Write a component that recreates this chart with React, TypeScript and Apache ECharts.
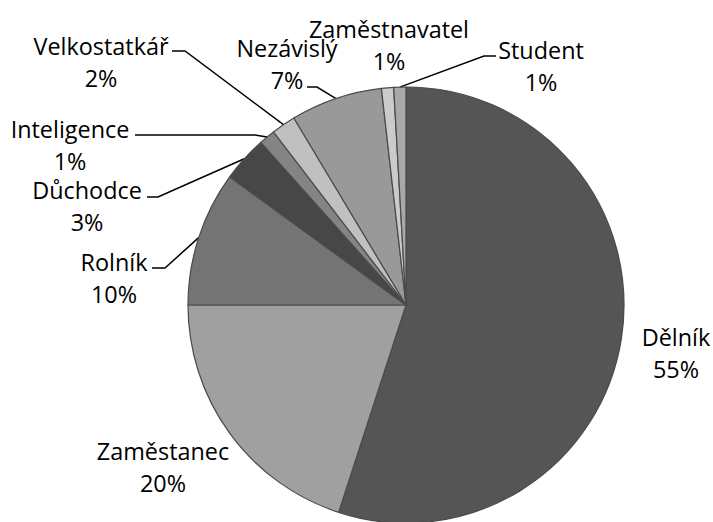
import React, { useEffect, useRef } from "react";
import * as echarts from "echarts";

const categories = ["Dělník", "Zaměstanec", "Rolník", "Důchodce", "Inteligence", "Velkostatkář", "Nezávislý", "Zaměstnavatel", "Student"];
const values = [55, 20, 10, 3.4, 1.2, 1.8, 6.8, 0.9, 0.9];
const colors = ["#555555", "#a0a0a0", "#747474", "#474747", "#848484", "#c0c0c0", "#999999", "#cbcbcb", "#a8a8a8"];
const labelPos: [number, number][] = [
  [676, 353],
  [163, 467],
  [114, 278],
  [87, 206],
  [70, 145],
  [101, 62],
  [287, 64],
  [389, 45],
  [541, 66],
];
// leader line: [label end point, elbow point] or null
const leaderPts: ([number, number][] | null)[] = [
  null,
  null,
  [[152, 268], [165, 268]],
  [[147, 197], [158, 197]],
  [[135, 135], [255, 135]],
  [[172, 51], [185, 51]],
  [[307, 87], [317, 87]],
  null,
  [[496, 56], [484, 56]],
];

export default function App() {
  const ref = useRef<HTMLDivElement>(null);
  useEffect(() => {
    if (!ref.current) return;
    const chart = echarts.init(ref.current, null, { renderer: "svg" });
    const total = values.reduce((a, b) => a + b, 0);
    const cx = 406, cy = 305, r = 218;
    const anchors = values.map((v, i) => {
      const before = values.slice(0, i).reduce((a, b) => a + b, 0);
      const mid = ((before + v / 2) / total) * Math.PI * 2;
      return [cx + r * Math.sin(mid), cy - r * Math.cos(mid)];
    });
    chart.setOption({
      animation: false,
      backgroundColor: "#ffffff",
      series: [
        {
          type: "pie",
          center: [cx, cy],
          radius: r,
          startAngle: 90,
          clockwise: true,
          data: categories.map((name, i) => ({
            name,
            value: values[i],
            itemStyle: { color: colors[i] },
            labelLine: { show: leaderPts[i] !== null },
          })),
          itemStyle: { borderColor: "#4a4a4a", borderWidth: 1.2 },
          label: {
            show: true,
            position: "outside",
            formatter: (p: any) => `${p.name}\n${Math.round(p.percent)}%`,
            fontFamily: "'Open Sans', 'Noto Sans', sans-serif",
            fontSize: 23.4,
            lineHeight: 32,
            color: "#000000",
            align: "center",
            overflow: "none",
            edgeDistance: 0,
          },
          labelLine: {
            show: true,
            lineStyle: { color: "#000000", width: 1.5 },
            length: 15,
            length2: 10,
          },
          labelLayout: (params: any) => {
            const i = params.dataIndex;
            const p = labelPos[i];
            const out: any = { x: p[0], y: p[1], align: "center", verticalAlign: "middle", hideOverlap: false };
            const lp = leaderPts[i];
            if (lp) {
              out.labelLinePoints = [anchors[i], lp[1], lp[0]];
            }
            return out;
          },
          emphasis: { disabled: true },
        },
      ],
    });
    return () => chart.dispose();
  }, []);
  return <div ref={ref} style={{ position: "absolute", left: 0, top: 0, width: 713, height: 522 }} />;
}
